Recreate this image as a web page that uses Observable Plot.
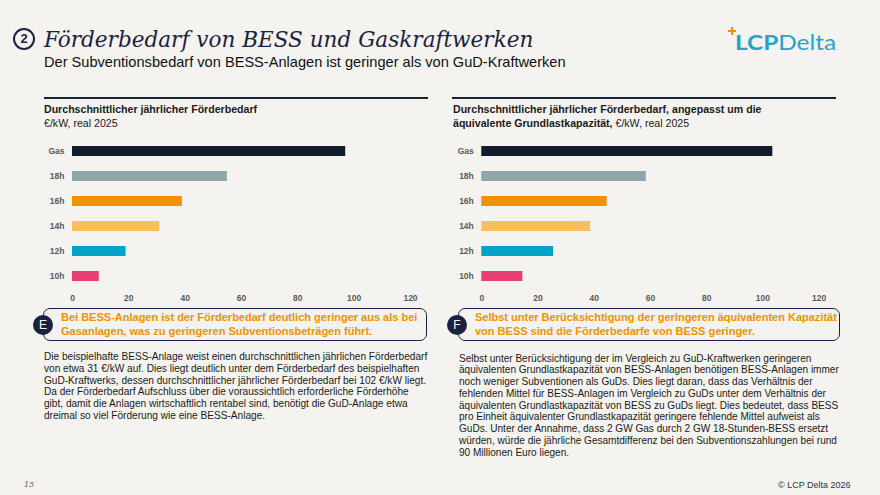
<!DOCTYPE html>
<html>
<head>
<meta charset="utf-8">
<script src="https://cdn.jsdelivr.net/npm/d3@7"></script>
<script src="https://cdn.jsdelivr.net/npm/@observablehq/plot@0.6"></script>
<style>
  html, body { margin: 0; padding: 0; }
  body { width: 880px; height: 495px; background: #f4f3ef; position: relative; overflow: hidden;
         font-family: "Liberation Sans", Arial, sans-serif; color: #1a1a1a; }
  .abs { position: absolute; white-space: pre; }
  .title { left: 44px; top: 25px; font-family: "DejaVu Serif", serif; font-style: italic; font-size: 22.5px; line-height: 28px; color: #1b2240;
           transform: scaleX(0.958); transform-origin: 0 0; }
  .num { left: 13px; top: 28px; width: 18px; height: 18px; border: 2px solid #1b2240; border-radius: 50%;
         font-weight: bold; font-size: 13px; line-height: 18px; text-align: center; color: #1b2240; }
  .sub { left: 44px; top: 54px; font-size: 14.6px; line-height: 16px; color: #111; }
  .rule { height: 2px; background: #1b2240; top: 97px; }
  .head { top: 102px; font-size: 10.6px; line-height: 14px; }
  .head b { font-weight: bold; }
  .callout { top: 308px; height: 33px; box-sizing: border-box; border: 1.8px solid #1b2240; border-radius: 7px; }
  .badge { top: 315px; width: 20px; height: 20px; border-radius: 50%; background: #1b2240; color: #fff;
           font-size: 12px; line-height: 20px; text-align: center; }
  .ctext { top: 311.3px; font-size: 11px; line-height: 13.5px; font-weight: bold; color: #f39200; }
  .para { font-size: 10.1px; line-height: 11.8px; color: #1a1a1a; }
  .chart { top: 135px; }
  .logo { left: 735px; top: 30px; font-family: Lato, "Open Sans", sans-serif; font-size: 21px; line-height: 24px; color: #1ea5cc;
          transform: scaleX(1.16); transform-origin: 0 0; }
  .plusbar { background: #f39200; }
  .foot { top: 479px; font-size: 8px; line-height: 12px; color: #333; }
</style>
</head>
<body>
<script>
// ---- data ----
const categories = ["Gas", "18h", "16h", "14h", "12h", "10h"];
const avgSupport = [97, 55, 39, 31, 19, 9.5];              // €/kW, real 2025
const adjSupport = [103.5, 58.5, 44.6, 38.7, 25.5, 14.6];  // angepasst um äquivalente Grundlastkapazität
const barColors = ["#141b2e", "#90a6aa", "#f39200", "#fdbe5e", "#03a3c7", "#e63f6f"];
const xTicks = [0, 20, 40, 60, 80, 100, 120];

const titleText = "Förderbedarf von BESS und Gaskraftwerken";
const subtitleText = "Der Subventionsbedarf von BESS-Anlagen ist geringer als von GuD-Kraftwerken";
const leftHead = ["Durchschnittlicher jährlicher Förderbedarf", "€/kW, real 2025"];
const rightHead = ["Durchschnittlicher jährlicher Förderbedarf, angepasst um die", "äquivalente Grundlastkapazität,", " €/kW, real 2025"];
const calloutE = ["Bei BESS-Anlagen ist der Förderbedarf deutlich geringer aus als bei", "Gasanlagen, was zu geringeren Subventionsbeträgen führt."];
const calloutF = ["Selbst unter Berücksichtigung der geringeren äquivalenten Kapazität", "von BESS sind die Förderbedarfe von BESS geringer."];
const paraLeft = [
  "Die beispielhafte BESS-Anlage weist einen durchschnittlichen jährlichen Förderbedarf",
  "von etwa 31 €/kW auf. Dies liegt deutlich unter dem Förderbedarf des beispielhaften",
  "GuD-Kraftwerks, dessen durchschnittlicher jährlicher Förderbedarf bei 102 €/kW liegt.",
  "Da der Förderbedarf Aufschluss über die voraussichtlich erforderliche Förderhöhe",
  "gibt, damit die Anlagen wirtschaftlich rentabel sind, benötigt die GuD-Anlage etwa",
  "dreimal so viel Förderung wie eine BESS-Anlage."
];
const paraRight = [
  "Selbst unter Berücksichtigung der im Vergleich zu GuD-Kraftwerken geringeren",
  "äquivalenten Grundlastkapazität von BESS-Anlagen benötigen BESS-Anlagen immer",
  "noch weniger Subventionen als GuDs. Dies liegt daran, dass das Verhältnis der",
  "fehlenden Mittel für BESS-Anlagen im Vergleich zu GuDs unter dem Verhältnis der",
  "äquivalenten Grundlastkapazität von BESS zu GuDs liegt. Dies bedeutet, dass BESS",
  "pro Einheit äquivalenter Grundlastkapazität geringere fehlende Mittel aufweist als",
  "GuDs. Unter der Annahme, dass 2 GW Gas durch 2 GW 18-Stunden-BESS ersetzt",
  "würden, würde die jährliche Gesamtdifferenz bei den Subventionszahlungen bei rund",
  "90 Millionen Euro liegen."
];

function el(cls, style, text) {
  const d = document.createElement("div");
  d.className = "abs " + cls;
  Object.assign(d.style, style || {});
  if (text != null) d.textContent = text;
  document.body.appendChild(d);
  return d;
}

function barChart(values, marginLeft, marginRight) {
  const data = categories.map((c, i) => ({category: c, value: values[i]}));
  return Plot.plot({
    width: 400, height: 170,
    marginLeft, marginRight, marginTop: 3, marginBottom: 17,
    style: {background: "transparent", fontFamily: "'Liberation Sans', Arial, sans-serif", fontSize: "8.5px", fontWeight: "bold", color: "#5a5a5a", overflow: "visible"},
    x: {domain: [0, 120], label: null},
    y: {domain: categories, paddingInner: 0.6, paddingOuter: 0.3, label: null},
    color: {domain: categories, range: barColors},
    marks: [
      Plot.gridX(xTicks, {stroke: "#d4d4d4", strokeOpacity: 1, strokeWidth: 1, y1: -3, y2: 153}),
      Plot.barX(data, {x: "value", y: "category", fill: "category"}),
      Plot.axisX({ticks: xTicks, tickSize: 0, tickPadding: 6, label: null}),
      Plot.axisY({tickSize: 0, tickPadding: 8, label: null})
    ]
  });
}

// header
el("num", {}, "2");
el("title", {}, titleText);
el("sub", {}, subtitleText);
el("plusbar", {left: "728px", top: "30.3px", width: "8px", height: "1.6px"});
el("plusbar", {left: "731.2px", top: "27px", width: "1.6px", height: "8px"});
const logo = el("logo", {});
logo.innerHTML = "<b>LCP</b>Delta";

// rules and headings
el("rule", {left: "44px", width: "384px"});
el("rule", {left: "452px", width: "384px"});
el("head", {left: "44px"}).innerHTML = "<b>" + leftHead[0] + "</b>\n" + leftHead[1];
el("head", {left: "453px"}).innerHTML = "<b>" + rightHead[0] + "</b>\n<b>" + rightHead[1] + "</b>" + rightHead[2];

// charts
const c1 = el("chart", {left: "30px"});
c1.appendChild(barChart(avgSupport, 42, 20));
const c2 = el("chart", {left: "440px"});
c2.appendChild(barChart(adjSupport, 41.3, 21.3));

// callouts
el("callout", {left: "43px", width: "384px"});
el("badge", {left: "33px"}, "E");
el("ctext", {left: "61px"}, calloutE.join("\n"));
el("callout", {left: "458px", width: "382px"});
el("badge", {left: "447px"}, "F");
el("ctext", {left: "475px"}, calloutF.join("\n"));

// paragraphs
el("para", {left: "44px", top: "351px"}, paraLeft.join("\n"));
el("para", {left: "459px", top: "352.5px", fontSize: "10.05px"}, paraRight.join("\n"));

// footer
el("foot", {left: "24px", fontFamily: "'DejaVu Serif', serif", fontStyle: "italic", color: "#555"}, "15");
el("foot", {left: "778px", fontSize: "9px"}, "© LCP Delta 2026");
</script>
</body>
</html>
